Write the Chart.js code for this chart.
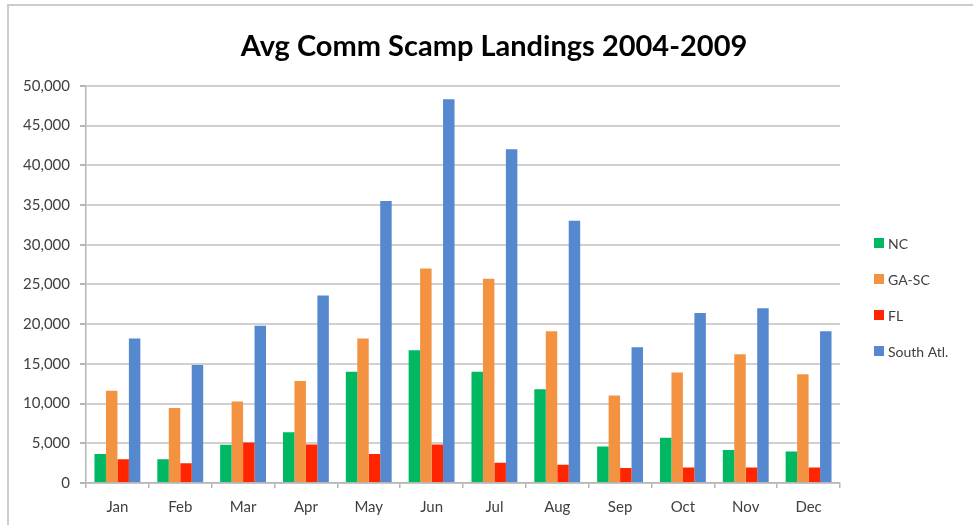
<!DOCTYPE html>
<html>
<head>
<meta charset="utf-8">
<script src="https://cdn.jsdelivr.net/npm/chart.js@4/dist/chart.umd.min.js"></script>
<style>
  html, body { margin: 0; padding: 0; background: #fff; }
  #wrap { width: 973px; height: 525px; }
</style>
</head>
<body>
<div id="wrap"><canvas id="chart" width="973" height="525"></canvas></div>
<script>
const MONTHS = ['Jan', 'Feb', 'Mar', 'Apr', 'May', 'Jun', 'Jul', 'Aug', 'Sep', 'Oct', 'Nov', 'Dec'];

const NC       = [3650, 3000, 4800, 6400, 14000, 16700, 14000, 11800, 4600, 5700, 4150, 3950];
const GA_SC    = [11600, 9450, 10250, 12850, 18200, 27000, 25700, 19100, 11000, 13900, 16200, 13700];
const FL       = [3000, 2500, 5100, 4850, 3650, 4850, 2550, 2300, 1900, 1950, 1950, 1950];
const SOUTH_AT = [18200, 14850, 19800, 23600, 35500, 48300, 42000, 33000, 17100, 21400, 22000, 19100];

const SERIES_NAMES = ['NC', 'GA-SC', 'FL', 'South Atl.'];
const COLORS = ['#00b862', '#f39342', '#ff2500', '#5588cf'];

const FONT = 'Lato, "Open Sans", sans-serif';
const TEXT = '#404040';

// marco gris alrededor del gráfico + leyenda a la derecha
const frameAndLegend = {
    id: 'frameAndLegend',
    beforeDraw(chart) {
        const ctx = chart.ctx;
        ctx.save();
        ctx.fillStyle = '#fff';
        ctx.fillRect(0, 0, chart.width, chart.height);
        ctx.strokeStyle = '#cccccc';
        ctx.lineWidth = 2;
        ctx.beginPath();
        ctx.moveTo(8, chart.height);
        ctx.lineTo(8, 5);
        ctx.lineTo(chart.width, 5);
        ctx.stroke();
        ctx.restore();
    },
    afterDraw(chart) {
        const ctx = chart.ctx;
        const x = chart.chartArea.right + 34;
        const y0 = 243, step = 36;
        ctx.save();
        ctx.font = `14px ${FONT}`;
        ctx.textBaseline = 'middle';
        chart.data.datasets.forEach((ds, i) => {
            const y = y0 + i * step;
            ctx.fillStyle = ds.backgroundColor;
            ctx.fillRect(x, y - 5, 10, 10);
            ctx.fillStyle = TEXT;
            ctx.fillText(ds.label, x + 14, y + 1);
        });
        ctx.restore();
    }
};

const values = [NC, GA_SC, FL, SOUTH_AT];

new Chart(document.getElementById('chart'), {
    type: 'bar',
    data: {
        labels: MONTHS,
        datasets: SERIES_NAMES.map((name, i) => ({
            label: name,
            data: values[i],
            backgroundColor: COLORS[i],
            borderWidth: 0,
            categoryPercentage: 0.73,
            barPercentage: 1.0,
        }))
    },
    options: {
        responsive: false,
        animation: false,
        layout: { padding: { left: 15, right: 0, top: 0, bottom: 0 } },
        plugins: {
            legend: { display: false },
            tooltip: { enabled: false },
            title: {
                display: true,
                text: 'Avg Comm Scamp Landings 2004-2009',
                color: '#000',
                font: { family: FONT, size: 29, weight: 'bold' },
                padding: { top: 29, bottom: 22 },
            }
        },
        scales: {
            x: {
                grid: { offset: true, drawOnChartArea: false, drawTicks: true, tickLength: 5, color: '#b5b5b5', lineWidth: 1.5 },
                border: { display: true, color: '#b5b5b5', width: 1.5 },
                ticks: { color: TEXT, font: { family: FONT, size: 15 }, padding: 10 },
                afterFit(scale) { scale.height = 42; }
            },
            y: {
                min: 0,
                max: 50000,
                grid: { color: '#d0d0d0', lineWidth: 2, tickLength: 6, tickColor: '#b5b5b5' },
                border: { display: true, color: '#b5b5b5', width: 1.5 },
                ticks: {
                    stepSize: 5000,
                    color: TEXT,
                    font: { family: FONT, size: 15 },
                    padding: 10,
                    callback: v => v.toLocaleString('en-US'),
                },
                afterFit(scale) { scale.width = 71; }
            },
            // eje vacío que deja sitio a la leyenda
            side: {
                position: 'right',
                min: 0,
                max: 1,
                grid: { display: false },
                border: { display: false },
                ticks: { display: false },
                afterFit(scale) { scale.width = 133; }
            }
        }
    },
    plugins: [frameAndLegend]
});
</script>
</body>
</html>
